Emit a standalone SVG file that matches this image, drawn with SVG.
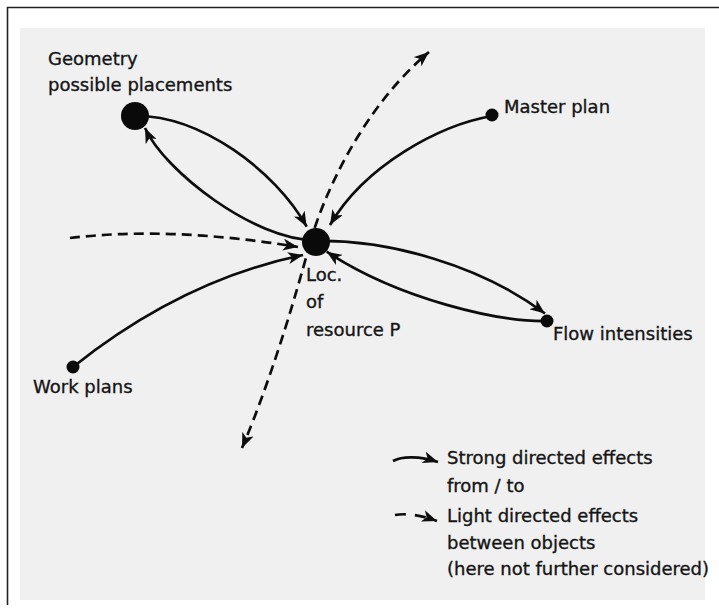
<svg xmlns="http://www.w3.org/2000/svg" width="719" height="613" viewBox="0 0 719 613">
  <style>
    .lbl { font-family: "DejaVu Sans", "Liberation Sans", sans-serif; font-size: 18px; fill: #151515; stroke: #151515; stroke-width: 0.35; }
    .strong { fill: none; stroke: #0d0d0d; stroke-width: 2.7; marker-end: url(#head); }
    .light { fill: none; stroke: #0d0d0d; stroke-width: 2.7; stroke-dasharray: 10 6; marker-end: url(#head); }
    .dot { fill: #0a0a0a; }
  </style>
  <defs>
    <marker id="head" markerUnits="userSpaceOnUse" markerWidth="15" markerHeight="12" refX="15" refY="6" orient="auto">
      <path d="M0,0 L15,6 L0,12 L4,6 Z" fill="#0d0d0d"/>
    </marker>
  </defs>

  <!-- sheet and frame -->
  <rect x="0" y="0" width="719" height="613" fill="#ffffff"/>
  <rect x="20" y="28" width="685" height="572" fill="#f0f0f0"/>
  <path d="M7.5,605 V7.5 H719" fill="none" stroke="#222" stroke-width="1.6"/>

  <!-- connectors -->
  <g id="connectors">
    <!-- light effects -->
    <path class="light" d="M70,238 Q170,226 298,247"/>
    <path class="light" d="M310,243 C322,200 360,110 429,52"/>
    <path class="light" d="M310,243 C300,280 275,370 242,448"/>
    <!-- strong effects -->
    <path class="strong" d="M135,116 C200,115 275,170 306.7,226.7"/>
    <path class="strong" d="M314,240 C255,240 165,172 145,128"/>
    <path class="strong" d="M73,367 Q182,280 303,255"/>
    <path class="strong" d="M492,116 C440,125 365,165 330,225"/>
    <path class="strong" d="M316,241 C390,240 480,265 545,313.5"/>
    <path class="strong" d="M547,321 C500,322 400,300 326.7,251.7"/>
  </g>

  <!-- nodes -->
  <g id="geometry">
    <circle class="dot" cx="135" cy="116" r="14"/>
    <text class="lbl" x="48" y="65">Geometry</text>
    <text class="lbl" x="48" y="91">possible placements</text>
  </g>
  <g id="master-plan">
    <circle class="dot" cx="492" cy="115" r="6.5"/>
    <text class="lbl" x="504" y="113">Master plan</text>
  </g>
  <g id="location">
    <circle class="dot" cx="316" cy="242" r="14"/>
    <text class="lbl" x="306" y="281">Loc.</text>
    <text class="lbl" x="306" y="308">of</text>
    <text class="lbl" x="306" y="336">resource P</text>
  </g>
  <g id="flow-intensities">
    <circle class="dot" cx="547" cy="321" r="6.5"/>
    <text class="lbl" x="553" y="340">Flow intensities</text>
  </g>
  <g id="work-plans">
    <circle class="dot" cx="73" cy="367" r="6.5"/>
    <text class="lbl" x="33" y="393">Work plans</text>
  </g>

  <!-- legend -->
  <g id="legend">
    <path class="strong" d="M393,461 C402,456 420,456 438,462"/>
    <path class="light" d="M395,515 Q412,512 437,521" style="stroke-dasharray: 11 9"/>
    <text class="lbl" x="447" y="464">Strong directed effects</text>
    <text class="lbl" x="447" y="492">from / to</text>
    <text class="lbl" x="447" y="522">Light directed effects</text>
    <text class="lbl" x="447" y="549">between objects</text>
    <text class="lbl" x="447" y="575">(here not further considered)</text>
  </g>
</svg>
